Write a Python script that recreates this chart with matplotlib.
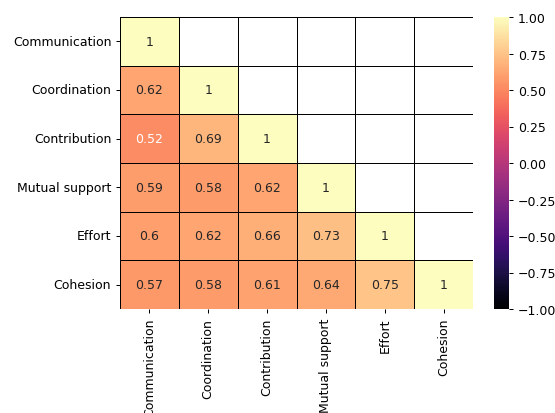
import numpy as np
import pandas as pd
import matplotlib
matplotlib.use("Agg")
import matplotlib.pyplot as plt
import seaborn as sns

labels = ["Communication", "Coordination", "Contribution",
          "Mutual support", "Effort", "Cohesion"]

# lower-triangle correlations, row by row
row_coordination = [0.62]
row_contribution = [0.52, 0.69]
row_mutual_support = [0.59, 0.58, 0.62]
row_effort = [0.60, 0.62, 0.66, 0.73]
row_cohesion = [0.57, 0.58, 0.61, 0.64, 0.75]

lower_rows = [[], row_coordination, row_contribution,
              row_mutual_support, row_effort, row_cohesion]

n = len(labels)
corr = np.eye(n)
for i, row in enumerate(lower_rows):
    for j, v in enumerate(row):
        corr[i, j] = v
        corr[j, i] = v
corr_df = pd.DataFrame(corr, index=labels, columns=labels)

mask = np.triu(np.ones_like(corr, dtype=bool), k=1)

W, H = 555, 414
DPI = 90
fig = plt.figure(figsize=(W / DPI, H / DPI), dpi=DPI)
heat_box = [120 / W, 1 - 310 / H, 353 / W, 292 / H]
cbar_box = [494 / W, 1 - 310 / H, 15 / W, 292 / H]
ax = fig.add_axes(heat_box)
cax = fig.add_axes(cbar_box)

sns.heatmap(corr_df, mask=mask, annot=True, cmap="magma", vmin=-1, vmax=1,
            linewidths=0.5, linecolor="black", ax=ax, cbar_ax=cax)
ax.set_position(heat_box)
cax.set_position(cbar_box)

fig.savefig("out.png", dpi=DPI)
